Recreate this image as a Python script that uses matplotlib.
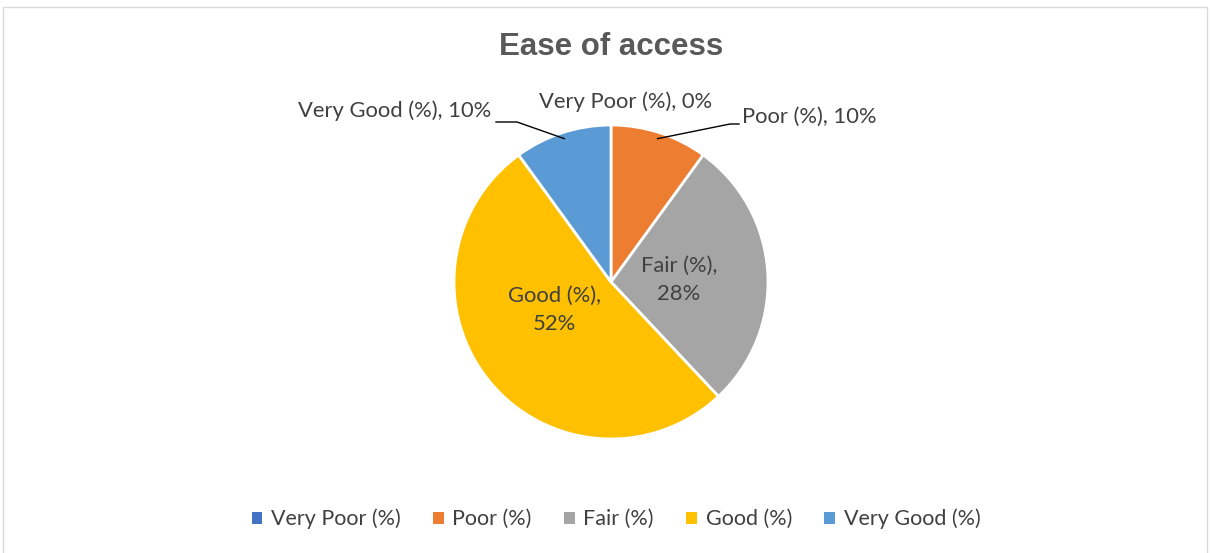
import numpy as np
import matplotlib.pyplot as plt
from matplotlib.patches import Rectangle, Patch

plt.rcParams['font.family'] = ['Lato', 'DejaVu Sans']

categories = ["Very Poor (%)", "Poor (%)", "Fair (%)", "Good (%)", "Very Good (%)"]
values = [0, 10, 28, 52, 10]
colors = ["#4472C4", "#ED7D31", "#A5A5A5", "#FFC000", "#5B9BD5"]
text_col = "#404040"

W, H = 1210, 553
fig = plt.figure(figsize=(W / 100, H / 100), dpi=100)

# marco del área del gráfico
fig.patches.append(Rectangle((3 / W, -0.02), 1204 / W, 1 - 7 / H + 0.02,
                             transform=fig.transFigure, fill=False,
                             edgecolor="#D9D9D9", linewidth=1))

# pie: centro (611, 282) px, radio 157 px
cx, cy, r = 611, 282, 157
ax = fig.add_axes([(cx - r) / W, (H - cy - r) / H, 2 * r / W, 2 * r / H])
wedges, _ = ax.pie(values, colors=colors, startangle=90, counterclock=False,
                   wedgeprops=dict(edgecolor="white", linewidth=2))
ax.set_xlim(-1, 1)
ax.set_ylim(-1, 1)
ax.set_aspect("auto")
ax.axis("off")

def px(x, y):
    return (x - cx) / r, (cy - y) / r

def mid_point(w, rr=0.96):
    a = np.deg2rad((w.theta1 + w.theta2) / 2)
    return rr * np.cos(a), rr * np.sin(a)

fs = 15.8
# etiquetas exteriores
ax.text(*px(626, 102), f"{categories[0]}, {values[0]}%", ha="center", va="center",
        fontsize=fs, color=text_col, clip_on=False)

ax.text(*px(742, 117), f"{categories[1]}, {values[1]}%", ha="left", va="center",
        fontsize=fs, color=text_col, clip_on=False)
sx, sy = mid_point(wedges[1])
ex, ey = px(730, 124)
fx, fy = px(739, 124)
ax.plot([sx, ex, fx], [sy, ey, fy], color="black", lw=1, clip_on=False)

ax.text(*px(491, 111), f"{categories[4]}, {values[4]}%", ha="right", va="center",
        fontsize=fs, color=text_col, clip_on=False)
sx, sy = mid_point(wedges[4])
ex, ey = px(517, 122)
fx, fy = px(496, 122)
ax.plot([sx, ex, fx], [sy, ey, fy], color="black", lw=1, clip_on=False)

# etiquetas interiores
ax.text(*px(679, 280), f"{categories[2]},\n{values[2]}%", ha="center", va="center",
        fontsize=fs, color=text_col, linespacing=1.55)
ax.text(*px(554, 310), f"{categories[3]},\n{values[3]}%", ha="center", va="center",
        fontsize=fs, color=text_col, linespacing=1.55)

fig.text(611 / W, 1 - 47 / H, "Ease of access", ha="center", va="center",
         fontsize=22.5, fontweight="bold", color="#595959",
         family=["Liberation Sans", "DejaVu Sans"])

handles = [Patch(facecolor=c, edgecolor="none") for c in colors]
fig.legend(handles, categories, loc="center", bbox_to_anchor=(616 / W, 1 - 519 / H),
           ncol=5, frameon=False, fontsize=15.5, labelcolor=text_col,
           handlelength=0.5, handleheight=0.5, handletextpad=0.4, columnspacing=1.5)

fig.savefig("out.png", dpi=100)
